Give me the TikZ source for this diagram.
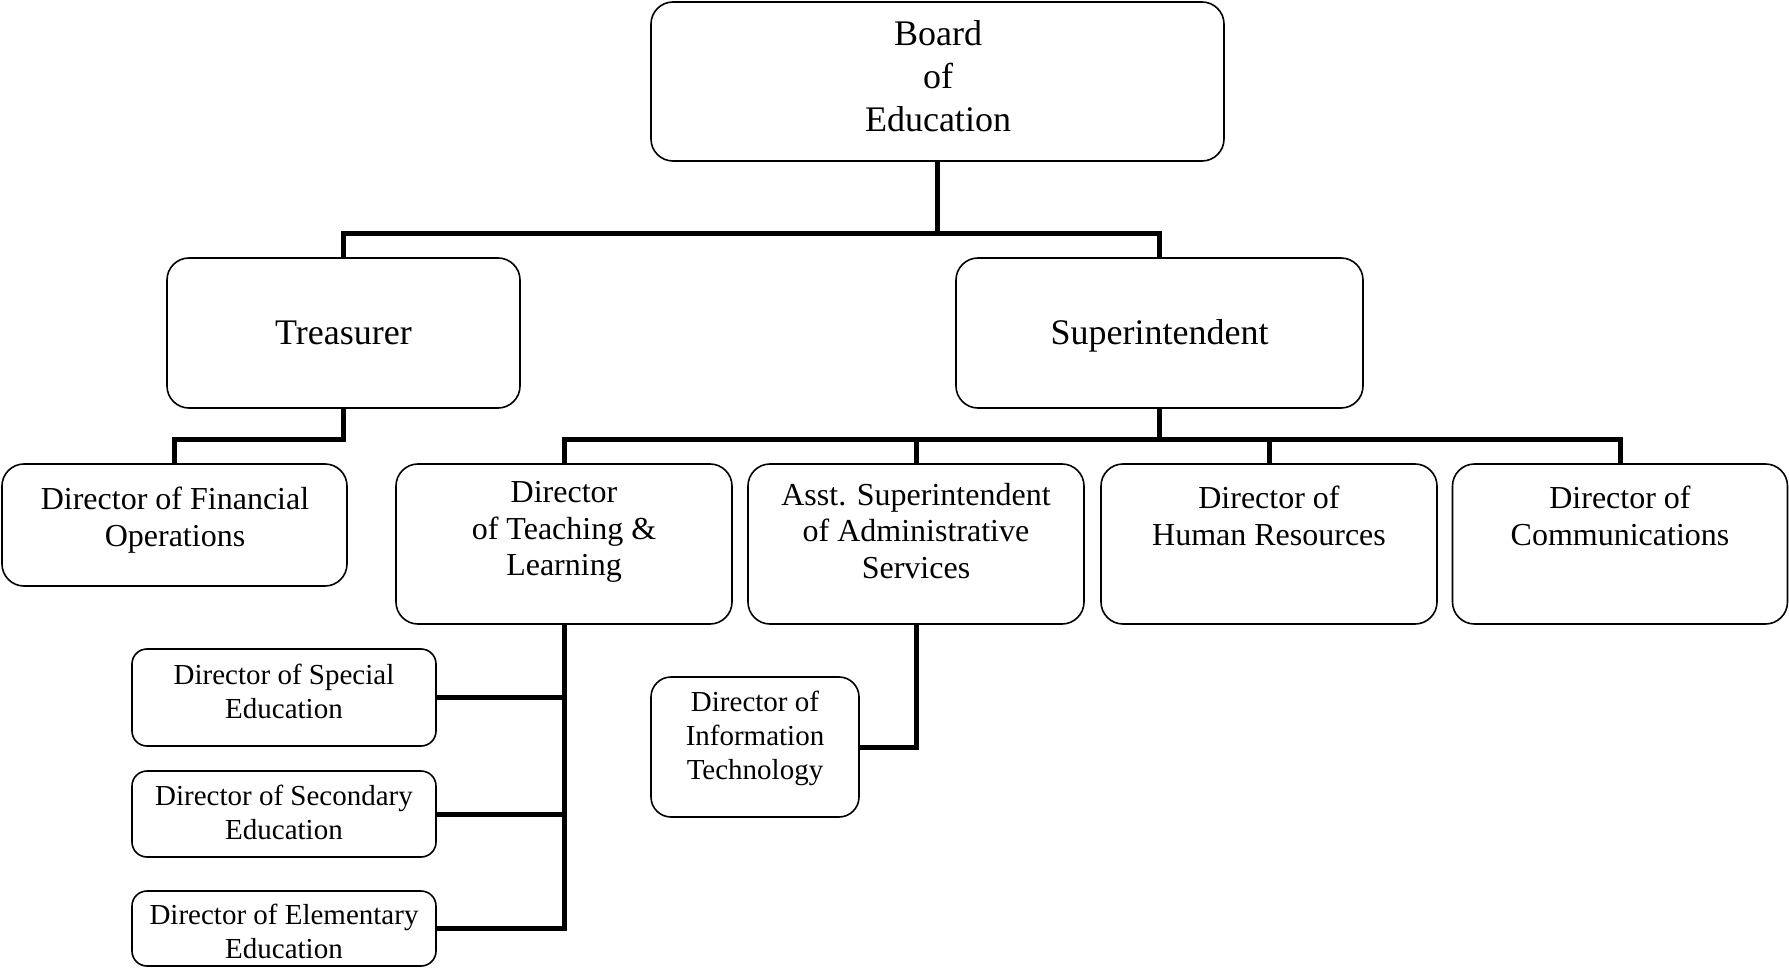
\documentclass[tikz,border=0pt]{standalone}
\usepackage{fontspec}
\setmainfont{Liberation Serif}
\begin{document}
\begin{tikzpicture}[x=1pt,y=-1pt]
\tikzstyle{unit}=[rectangle, rounded corners=22pt, draw=black, line width=1.6pt, inner sep=0pt]
\tikzstyle{small}=[unit, rounded corners=15pt]
\tikzstyle{big}=[font=\fontsize{36}{43}\selectfont, align=center, inner sep=0pt]
\tikzstyle{mid}=[font=\fontsize{32}{36.5}\selectfont, align=center, inner sep=0pt]
\tikzstyle{low}=[font=\fontsize{29}{34}\selectfont, align=center, inner sep=0pt]
\tikzstyle{connect}=[line width=5pt]
\useasboundingbox (0,0) rectangle (1789,968);
  % top levels
  \node[unit, minimum width=573pt, minimum height=159pt] (board) at (937.5,81.5) {};
  \node[unit, minimum width=353pt, minimum height=150pt] (treas) at (343.5,333) {};
  \node[unit, minimum width=407pt, minimum height=150pt] (super) at (1159.5,333) {};
  % directors
  \node[unit, minimum width=345pt, minimum height=122pt] (finops) at (174.5,525) {};
  \node[unit, minimum width=336pt, minimum height=160pt] (teach) at (564,544) {};
  \node[unit, minimum width=336pt, minimum height=160pt] (asst) at (916,544) {};
  \node[unit, minimum width=336pt, minimum height=160pt] (hr) at (1269,544) {};
  \node[unit, minimum width=335pt, minimum height=160pt] (comm) at (1620,544) {};
  % lower level
  \node[small, minimum width=304pt, minimum height=97pt] (spec) at (284,697.5) {};
  \node[small, minimum width=304pt, minimum height=86pt] (sec) at (284,814) {};
  \node[small, minimum width=304pt, minimum height=75pt] (elem) at (284,928.5) {};
  \node[unit, rounded corners=20pt, minimum width=208pt, minimum height=140pt] (it) at (755,747) {};
  % texts
  \node[big] (boardT) at (938,76) {Board\\of\\Education};
  \node[big] (treasT) at (343.5,333) {Treasurer};
  \node[big] (superT) at (1159.5,336) {Superintendent};
  \node[mid] (finT) at (175,520) {Director of Financial\\Operations};
  \node[mid] (teachT) at (564,532) {Director\\of Teaching \&\\Learning};
  \node[mid] (asstT) at (916,531) {Asst. Superintendent\\of Administrative\\Services};
  \node[mid] (hrT) at (1269,516) {Director of\\Human Resources};
  \node[mid] (commT) at (1620,516) {Director of\\Communications};
  \node[low] (specT) at (284,691) {Director of Special\\Education};
  \node[low] (secT) at (284,812) {Director of Secondary\\Education};
  \node[low] (elemT) at (284,931) {Director of Elementary\\Education};
  \node[low] (itT) at (755,738) {Director of\\Information\\Technology};
  % connections
  \coordinate (topbus) at (937.5,234);
  \coordinate (treasbus) at (343.5,439);
  \coordinate (superbus) at (1159.5,439);
  \draw[connect] (board.south) -- (topbus);
  \draw[connect] (treas.north) |- (topbus) -| (super.north);
  \draw[connect] (treas.south) -- (treasbus) -| (finops.north);
  \draw[connect] (super.south) -- (superbus);
  \draw[connect] (teach.north) |- (superbus) -| (comm.north);
  \draw[connect] (asst.north) -- (asst.north |- superbus);
  \draw[connect] (hr.north) -- (hr.north |- superbus);
  \draw[connect] (teach.south) |- (elem.east);
  \draw[connect] (spec.east) -- (spec.east -| teach.south);
  \draw[connect] (sec.east) -- (sec.east -| teach.south);
  \draw[connect] (asst.south) |- (it.east);
\end{tikzpicture}
\end{document}
